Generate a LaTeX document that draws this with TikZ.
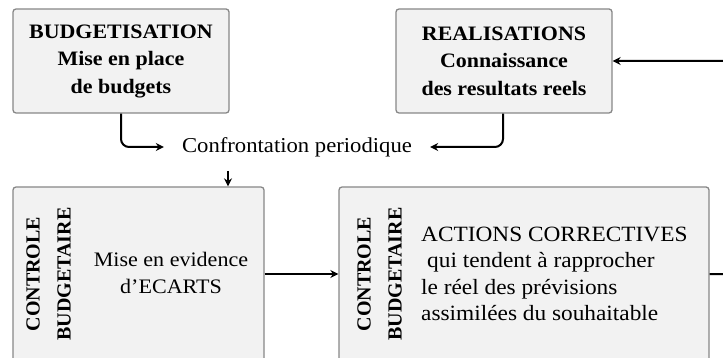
\documentclass[tikz,border=0pt]{standalone}
\usepackage{fontspec}
\setmainfont[FakeStretch=1.07]{Liberation Serif}
\newfontfamily\sidefont{Liberation Serif}
\usetikzlibrary{arrows.meta}
\definecolor{boxfill}{RGB}{242,242,242}
\definecolor{boxline}{RGB}{135,135,135}

\begin{document}
\begin{tikzpicture}[x=1pt,y=-1pt,
  panel/.style={draw=boxline, line width=1.3pt, fill=boxfill, rounded corners=3pt, inner sep=0pt},
  headtext/.style={font=\bfseries\fontsize{20.5}{27.5}\selectfont, align=center},
  sidelabel/.style={font=\sidefont\bfseries\fontsize{20}{24}\selectfont, rotate=90, inner sep=0pt},
  flow/.style={line width=2pt, -{Stealth[length=8pt,width=8pt]}, rounded corners=8pt},
]
\useasboundingbox (0,0) rectangle (723,358);
\clip (0,0) rectangle (723,358);

% top boxes
\node[panel, headtext, minimum width=216pt, minimum height=104pt] (budget) at (121,61)
  {BUDGETISATION\\Mise en place\\de budgets};
\node[panel, headtext, minimum width=216pt, minimum height=104pt] (real) at (504,61)
  {REALISATIONS\\Connaissance\\des resultats reels};

% periodic comparison
\node[font=\fontsize{21.2}{24}\selectfont, inner xsep=18pt, inner ysep=14pt] (conf) at (297,147)
  {Confrontation periodique};

% bottom boxes
\node[panel, minimum width=251pt, minimum height=210pt] (ecarts) at (138.5,292) {};
\node[panel, minimum width=370pt, minimum height=210pt] (actions) at (524,292) {};

\node[sidelabel] (c1) at (33,274) {CONTROLE};
\node[sidelabel] (b1) at (64,274) {BUDGETAIRE};
\node[sidelabel] (c2) at (364,274) {CONTROLE};
\node[sidelabel] (b2) at (395,274) {BUDGETAIRE};

\node[font=\fontsize{20.6}{27}\selectfont, align=center, inner sep=0pt] (ecartstext) at (171,273)
  {Mise en evidence\\d’ECARTS};
\node[font=\fontsize{21.8}{26.3}\selectfont, align=left, anchor=west, inner sep=0pt] (actionstext) at (421,274)
  {ACTIONS CORRECTIVES\\\hspace*{6pt}qui tendent à rapprocher\\le réel des prévisions\\assimilées du souhaitable};

% connectors
\coordinate (dx) at (228,0);
\coordinate (rx) at (503,0);
\coordinate (ay) at (0,274);
\draw[flow] (budget.south) |- (conf.west);
\draw[flow] (real.south -| rx) |- (conf.east);
\draw[flow] (conf.south -| dx) -- (ecarts.north -| dx);
\draw[flow] (ecarts.east |- ay) -- (actions.west |- ay);
\draw[flow] (actions.east |- ay) -- ++(40,0) |- (real.east);
\end{tikzpicture}
\end{document}
